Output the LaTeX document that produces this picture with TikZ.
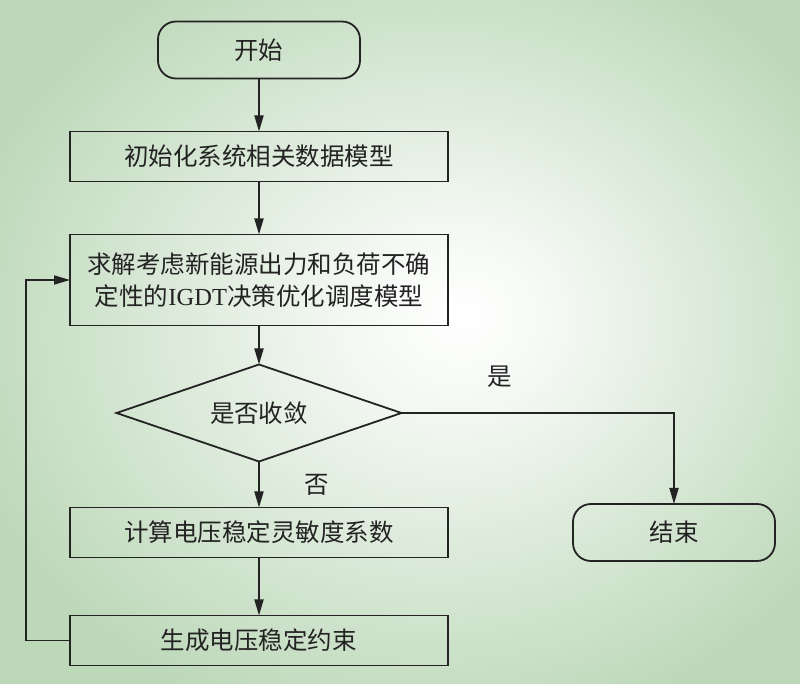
\documentclass[tikz,border=0pt]{standalone}
\usepackage{fontspec}
\setmainfont{Liberation Serif}
\newfontfamily\cjk{Noto Sans CJK SC}
\usepackage{tikz}
\usetikzlibrary{shapes,arrows,positioning}
\usetikzlibrary{arrows.meta}
\usetikzlibrary{shapes.geometric,calc}

\definecolor{bggreen}{RGB}{189,216,185}
\definecolor{inkgray}{RGB}{35,35,35}
\pgfdeclareradialshading{bgglow}{\pgfpoint{4bp}{2bp}}{color(0bp)=(white); color(6bp)=(white!85!bggreen); color(30bp)=(bggreen); color(50bp)=(bggreen)}

\begin{document}
\begin{tikzpicture}[x=1pt, y=1pt, line width=0.9pt, color=inkgray,
    font=\cjk\fontsize{12.25}{16}\selectfont,
    proc/.style={draw, rectangle, minimum width=189pt, minimum height=25pt, inner sep=2pt, outer sep=0pt, align=center},
    term/.style={draw, rectangle, rounded corners=9pt, minimum width=101pt, minimum height=28.5pt, outer sep=0pt},
    decide/.style={draw, diamond, aspect=2.94, inner sep=0pt, outer sep=0pt, minimum width=142.5pt, minimum height=48.5pt},
    -{Triangle[length=8pt,width=4.5pt]}]
    \shade[shading=bgglow, -] (0,0) rectangle (400,-342);
    \useasboundingbox (0,0) rectangle (400,-342);

    \node[term] (start) at (129.5,-25) {开始};
    \node[proc, below=26.5pt of start] (init) {初始化系统相关数据模型};
    \node[proc, minimum height=45.5pt, below=26.5pt of init] (solve)
        {求解考虑新能源出力和负荷不确\\定性的{\rmfamily IGDT}决策优化调度模型};
    \node[decide, below=19.5pt of solve] (conv) {是否收敛};
    \node[proc, below=23pt of conv] (calc) {计算电压稳定灵敏度系数};
    \node[proc, below=29pt of calc] (cons) {生成电压稳定约束};
    \node[term, right=62.5pt of calc] (stop) {结束};

    \draw (start) -- (init);
    \draw (init) -- (solve);
    \draw (solve) -- (conv);
    \draw (conv) -- node[right=19pt] {否} (calc);
    \draw (calc) -- (cons);
    \draw (conv.east) -| node[pos=0.18, above=9pt] {是} (stop.north);
    \draw (cons.west) -- ++(-22,0) |- (solve.west);
  \end{tikzpicture}
\end{document}
